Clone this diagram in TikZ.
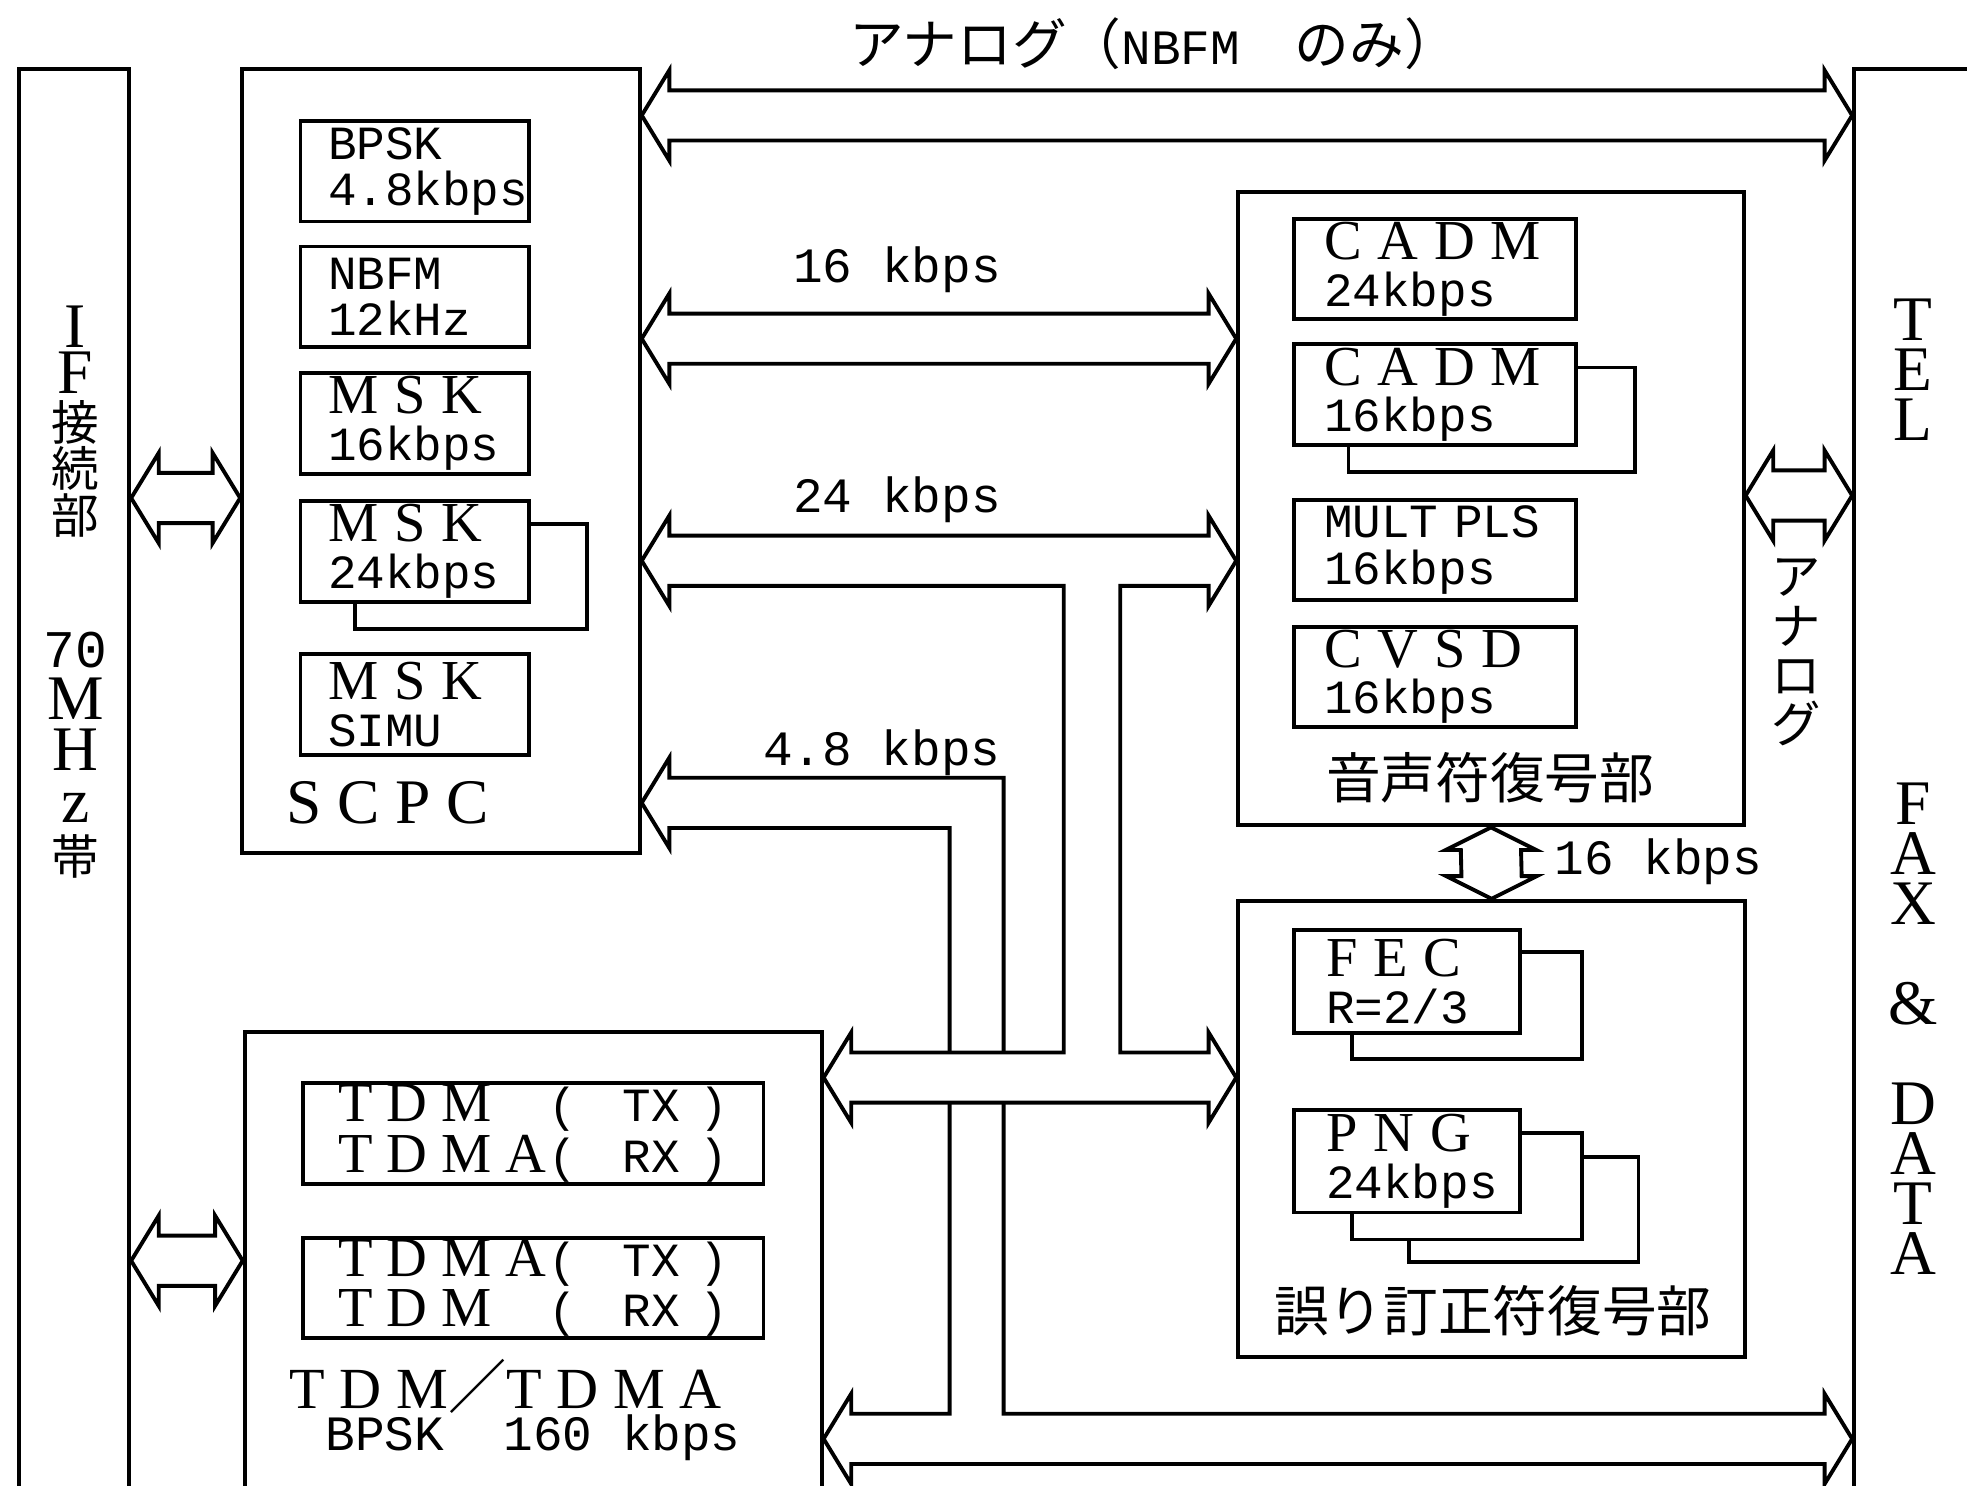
\documentclass[tikz,border=0pt]{standalone}
\usepackage{fontspec}
\setmainfont{Liberation Serif}
\newfontfamily\mon{Liberation Mono}
\newfontfamily\jp{Noto Sans CJK JP}
\usetikzlibrary{calc,fit,positioning}

\newcommand\capsA[1]{{\rmfamily\fontsize{16}{13.2}\selectfont #1}}
\newcommand\jc[1]{{\jp\fontsize{13.5}{13.2}\selectfont #1}}
\newcommand\hdbl[2]{%
  \draw[bus] (#1) -- ++(22,-36) -- ++(0,16) -- ($(#2)+(-22,-20)$) -- ++(0,-16)
    -- (#2) -- ++(-22,36) -- ++(0,-16) -- ($(#1)+(22,20)$) -- ++(0,16) -- cycle;}
\newcommand\vdbl[2]{%
  \draw[bus] (#1) -- ++(36,18) -- ++(-12,0) -- ($(#2)+(24,-18)$) -- ++(12,0)
    -- (#2) -- ++(-36,-18) -- ++(12,0) -- ($(#1)+(-24,18)$) -- ++(-12,0) -- cycle;}
\newcommand\shadowrect[3]{%
  \draw[bus] ($(#1.north east)+(0,#3)$) -- ++(#2,0) |- ($(#1.south west)+(#2,#3)$) -- ++(0,-#3);}

\begin{document}
\begin{tikzpicture}[x=0.0125cm, y=-0.0125cm,
  unitframe/.style={draw, line width=1.1pt, inner sep=0pt},
  bus/.style={draw, line width=1.1pt, line join=miter},
  modbox/.style={draw, line width=1.1pt, anchor=north west, inner ysep=0pt, align=left,
                 minimum height=1cm, font=\mon\fontsize{13.5}{13.2}\selectfont},
  scbox/.style={modbox, minimum width=2.275cm, inner xsep=0.275cm, text width=1.725cm},
  vcbox/.style={modbox, minimum width=2.8125cm, inner xsep=0.3cm, text width=2.2125cm},
  fcbox/.style={modbox, minimum width=2.25cm, minimum height=1.025cm, inner xsep=0.32cm, text width=1.61cm},
  tdbox/.style={modbox, minimum width=4.5875cm, inner xsep=0pt,
                font=\mon\fontsize{13.5}{14.2}\selectfont},
  rate/.style={inner sep=0pt, font=\mon\fontsize{14}{14}\selectfont},
  jlabel/.style={inner sep=0pt, font=\jp\fontsize{15.5}{15.5}\selectfont},
  vtext/.style={inner sep=0pt, align=center, font=\rmfamily\fontsize{18}{14.2}\selectfont},
]
  \useasboundingbox (0,0) rectangle (1568,1184);
  \clip (0,0) rectangle (1568,1184);

  \node[unitframe, fit={(15,55) (103,1220)}] (ifu) {};
  \node[unitframe, fit={(193,55) (510,680)}] (scpc) {};
  \node[unitframe, fit={(195,823) (655,1220)}] (tdm) {};
  \node[unitframe, fit={(987,153) (1390,658)}] (voice) {};
  \node[unitframe, fit={(987,718) (1391,1082)}] (fecu) {};
  \node[unitframe, fit={(1478,55) (1620,1220)}] (tel) {};

  \node[scbox] (bpsk) at (238,95) {BPSK\\4.8kbps};
  \node[scbox] (nbfm) at (238,195) {NBFM\\12kHz};
  \node[scbox] (msk16) at (238,296) {\capsA{M S K}\\16kbps};
  \node[scbox] (msk24) at (238,398) {\capsA{M S K}\\24kbps};
  \node[scbox] (msksim) at (238,520) {\capsA{M S K}\\SIMU};
  \shadowrect{msk24}{45}{20}
  \node[inner sep=0pt, font=\rmfamily\fontsize{18}{18}\selectfont] (scpclbl) at (309,640) {S C P C};

  \node[vcbox] (cadm24) at (1030,173) {\capsA{C A D M}\\24kbps};
  \node[vcbox] (cadm16) at (1030,273) {\capsA{C A D M}\\16kbps};
  \node[vcbox] (mult) at (1030,397) {MULT PLS\\16kbps};
  \node[vcbox] (cvsd) at (1030,498) {\capsA{C V S D}\\16kbps};
  \shadowrect{cadm16}{45}{20}
  \node[jlabel] (vlbl) at (1188,620) {音声符復号部};

  \node[fcbox] (fec) at (1030,740) {\capsA{F E C}\\R=2/3};
  \node[fcbox] (png) at (1030,883) {\capsA{P N G}\\24kbps};
  \shadowrect{fec}{48}{19}
  \shadowrect{png}{48}{20}
  \draw[bus] ($(png.north east)+(48,39)$) -- ++(45,0) |- ($(png.south west)+(93,38)$) -- ++(0,-18);
  \node[jlabel] (flbl) at (1190,1045) {誤り訂正符復号部};

  \node[tdbox] (tdm1) at (240,862) {\makebox[2.1cm][l]{\capsA{T D M}}(\hspace{0.45cm}TX\hspace{0.2cm})\\\makebox[2.1cm][l]{\capsA{T D M A}}(\hspace{0.45cm}RX\hspace{0.2cm})};
  \node[tdbox] (tdm2) at (240,985) {\makebox[2.1cm][l]{\capsA{T D M A}}(\hspace{0.45cm}TX\hspace{0.2cm})\\\makebox[2.1cm][l]{\capsA{T D M}}(\hspace{0.45cm}RX\hspace{0.2cm})};
  \node[inner sep=0pt, font=\rmfamily\fontsize{16.5}{16.5}\selectfont] (tdmlbl) at (403,1105) {T D M{\jp ／}T D M A};
  \node[rate] (tdmrate) at (425,1146) {BPSK~~160 kbps};

  \node[vtext, font=\rmfamily\fontsize{18}{13.2}\selectfont] (iftxt) at (60,336) {I\\F\\\jc{接}\\\jc{続}\\\jc{部}};
  \node[vtext, font=\rmfamily\fontsize{18}{14.6}\selectfont] (mhz) at (60,602) {{\mon\fontsize{15}{14.6}\selectfont 70}\\M\\H\\z\\\jc{帯}};
  \node[vtext] (teltxt) at (1525,295) {T\\E\\L};
  \node[vtext] (faxtxt) at (1525,820) {F\\A\\X\\[14.2pt]\&\\[14.2pt]D\\A\\T\\A};
  \node[vtext, font=\jp\fontsize{14}{13.9}\selectfont] (antxt) at (1432,520) {ア\\ナ\\ロ\\グ};

  \node[jlabel] (anlbl) at (920,35) {アナログ（{\mon\fontsize{14}{14}\selectfont NBFM}　のみ）};
  \node[rate] (l16) at (715,215) {16 kbps};
  \node[rate] (l24) at (715,398) {24 kbps};
  \node[rate] (l48) at (703,600) {4.8 kbps};
  \node[rate] (l16b) at (1322,687) {16 kbps};

  \coordinate (y92) at (0,92);
  \coordinate (y270) at (0,270);
  \coordinate (y395) at (0,395);
  \coordinate (y397) at (0,397);
  \coordinate (y447) at (0,447);
  \coordinate (y640) at (0,640);
  \coordinate (y859) at (0,859);
  \coordinate (y1005) at (0,1005);
  \coordinate (y1147) at (0,1147);
  \coordinate (anl) at (scpc.east |- y92);
  \coordinate (anr) at (tel.west |- y92);
  \coordinate (k16l) at (scpc.east |- y270);
  \coordinate (k16r) at (voice.west |- y270);
  \coordinate (ifsl) at (ifu.east |- y397);
  \coordinate (ifsr) at (scpc.west |- y397);
  \coordinate (iftl) at (ifu.east |- y1005);
  \coordinate (iftr) at (tdm.west |- y1005);
  \coordinate (vtl) at (voice.east |- y395);
  \coordinate (vtr) at (tel.west |- y395);
  \coordinate (k24l) at (scpc.east |- y447);
  \coordinate (k24r) at (voice.west |- y447);
  \coordinate (k48l) at (scpc.east |- y640);
  \coordinate (tdl) at (tdm.east |- y859);
  \coordinate (tdr) at (fecu.west |- y859);
  \coordinate (bbl) at (tdm.east |- y1147);
  \coordinate (bbr) at (tel.west |- y1147);

  \hdbl{anl}{anr}
  \hdbl{k16l}{k16r}
  \hdbl{ifsl}{ifsr}
  \hdbl{iftl}{iftr}
  \hdbl{vtl}{vtr}
  \vdbl{voice.south}{fecu.north}

  \draw[bus] (k24l) -- ++(22,-36) -- ++(0,16) -- ($(k24r)+(-22,-20)$) -- ++(0,-16) -- (k24r)
    -- ++(-22,36) -- ++(0,-16) -- (893,467) -- (893,839) -- ($(tdr)+(-22,-20)$) -- ++(0,-16)
    -- (tdr) -- ++(-22,36) -- ++(0,-16) -- ($(tdl)+(22,20)$) -- ++(0,16) -- (tdl)
    -- ++(22,-36) -- ++(0,16) -- (848,839) -- (848,467) -- ($(k24l)+(22,20)$) -- ++(0,16) -- cycle;
  \draw[bus] (800,839) -- (800,620) -- ($(k48l)+(22,-20)$) -- ++(0,-16) -- (k48l)
    -- ++(22,36) -- ++(0,-16) -- (757,660) -- (757,839);
  \draw[bus] (757,879) -- (757,1127) -- ($(bbl)+(22,-20)$) -- ++(0,-16) -- (bbl)
    -- ++(22,36) -- ++(0,-16) -- ($(bbr)+(-22,20)$) -- ++(0,16) -- (bbr)
    -- ++(-22,-36) -- ++(0,16) -- (800,1127) -- (800,879);
\end{tikzpicture}
\end{document}
